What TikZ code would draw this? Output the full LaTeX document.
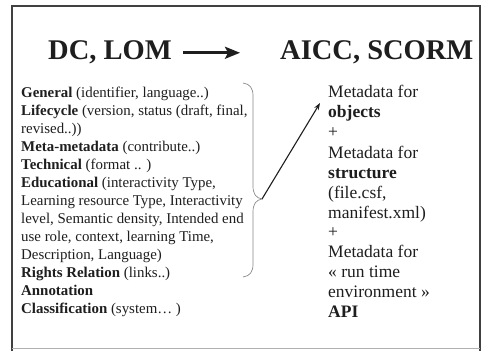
\documentclass[tikz,border=0pt]{standalone}
\usepackage{fontspec}
\setmainfont{Liberation Serif}
\usetikzlibrary{arrows.meta}
\definecolor{ink}{HTML}{1E1E1E}
\definecolor{bracegray}{HTML}{8A8A8A}
\tikzset{
  title/.style={font=\fontsize{28.5}{32}\selectfont\bfseries, text=ink, inner sep=0pt, anchor=base west},
  lefttext/.style={font=\fontsize{14.9}{18}\selectfont, text=ink, inner sep=0pt, anchor=base west},
  righttext/.style={font=\fontsize{17.5}{20}\selectfont, text=ink, inner sep=0pt, anchor=base west},
  frame/.style={draw=ink!85, line width=1.1pt},
  faintline/.style={draw=ink!35, line width=0.8pt},
  bigarrow/.style={draw=ink, line width=2.6pt, -{Stealth[length=15pt,width=12pt,inset=3pt]}},
  thinarrow/.style={draw=ink, line width=1.1pt, -{Stealth[length=7pt,width=5pt]}},
  bracestyle/.style={draw=bracegray, line width=0.7pt},
}
\begin{document}
\begin{tikzpicture}[x=1pt,y=-1pt]
\useasboundingbox (0,0) rectangle (486,351);
\fill[white] (0,0) rectangle (486,351);
\draw[frame] (12,351) -- (12,6) -- (480,6) -- (480,351);
\draw[faintline] (12,348) -- (480,348);

% titles
\node[title] (dc) at (48,59) {DC, LOM};
\node[title] (aicc) at (280,59) {AICC, SCORM};
\draw[bigarrow] ([xshift=11pt,yshift=-1pt]dc.east) -- ([xshift=-40pt,yshift=-1pt]aicc.west);

% left list
\node[lefttext] (l1) at (21,97) {\textbf{General} (identifier, language..)};
\node[lefttext] (l2) at (21,115) {\textbf{Lifecycle} (version, status (draft, final,};
\node[lefttext] (l3) at (21,133) {revised..))};
\node[lefttext] (l4) at (21,151) {\textbf{Meta-metadata} (contribute..)};
\node[lefttext] (l5) at (21,169) {\textbf{Technical} (format .. )};
\node[lefttext] (l6) at (21,187) {\textbf{Educational} (interactivity Type,};
\node[lefttext] (l7) at (21,205) {Learning resource Type, Interactivity};
\node[lefttext] (l8) at (21,223) {level, Semantic density, Intended end};
\node[lefttext] (l9) at (21,241) {use role, context, learning Time,};
\node[lefttext] (l10) at (21,259) {Description, Language)};
\node[lefttext] (l11) at (21,277) {\textbf{Rights Relation} (links..)};
\node[lefttext] (l12) at (21,295) {\textbf{Annotation}};
\node[lefttext] (l13) at (21,313) {\textbf{Classification} (system… )};

% right list
\node[righttext] (r1) at (328,97) {Metadata for};
\node[righttext] (r2) at (328,117) {\textbf{objects}};
\node[righttext] (r3) at (328,137) {+};
\node[righttext] (r4) at (328,158) {Metadata for};
\node[righttext] (r5) at (328,178) {\textbf{structure}};
\node[righttext] (r6) at (328,198) {(file.csf,};
\node[righttext] (r7) at (328,218) {manifest.xml)};
\node[righttext] (r8) at (328,237) {+};
\node[righttext] (r9) at (328,257) {Metadata for};
\node[righttext] (r10) at (328,277) {«~run time};
\node[righttext] (r11) at (328,297) {environment~»};
\node[righttext] (r12) at (328,317) {\textbf{API}};

% brace
\coordinate (bracetip) at (262,199);
\coordinate (arrowend) at (320,103);
\draw[bracestyle] (243,83) .. controls (250,84) and (253,88) .. (253,96)
  -- (253,186) .. controls (253,194) and (256,198) .. (bracetip)
  .. controls (256,200) and (253,204) .. (253,212)
  -- (253,264) .. controls (253,272) and (250,276) .. (243,277);
\draw[thinarrow] (bracetip) -- (arrowend);
\end{tikzpicture}
\end{document}
